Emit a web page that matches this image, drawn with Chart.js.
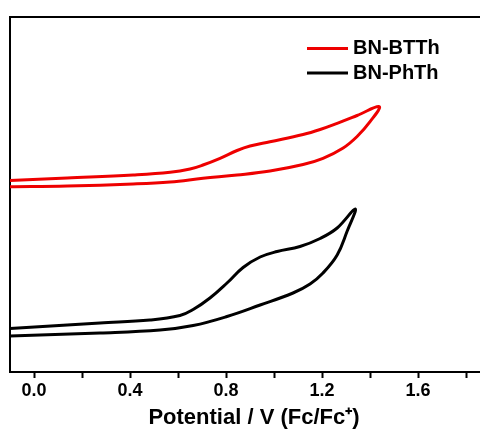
<!DOCTYPE html>
<html>
<head>
<meta charset="utf-8">
<script src="https://cdn.jsdelivr.net/npm/chart.js@4"></script>
<style>
  html, body { margin: 0; padding: 0; background: #fff; overflow: hidden; }
  #wrap { width: 500px; height: 431px; }
</style>
</head>
<body>
<div id="wrap"><canvas id="cv" width="500" height="431"></canvas></div>
<script>
'use strict';

// BN-BTTh loop: forward scan then reverse scan (potential in V vs Fc/Fc+, current in arb. units)
const btthV = [-0.100, 0.138, 0.413, 0.567, 0.650, 0.704, 0.775, 0.846, 0.900, 0.983, 1.121, 1.192, 1.263, 1.346, 1.438,
               1.400, 1.346, 1.288, 1.204, 1.121, 0.983, 0.846, 0.704, 0.567, 0.413, 0.138, -0.100];
const btthI = [191.5, 194, 197, 199.7, 203, 207, 213.7, 221.5, 226, 230.3, 237.5, 242.5, 248.7, 256.5, 265.3,
               250.3, 235.5, 224, 213.7, 207.5, 201, 197, 193.7, 190, 188, 186, 185.3];

// BN-PhTh loop
const phthV = [-0.100, 0.275, 0.483, 0.608, 0.663, 0.733, 0.804, 0.871, 0.942, 1.013, 1.108, 1.192, 1.263, 1.338,
               1.304, 1.263, 1.204, 1.150, 1.079, 0.942, 0.804, 0.663, 0.525, 0.275, -0.100];
const phthI = [43.5, 49, 52, 56.5, 62.5, 74, 89, 104.5, 115, 120.5, 125.5, 133.5, 144, 163,
               140.5, 117, 99, 88, 79, 67, 55.5, 46.5, 42, 39, 36];

const seriesNames = ['BN-BTTh', 'BN-PhTh'];
const seriesColors = ['#ee0000', '#000000'];

const FONT = '"Liberation Sans", Arial, Helvetica, sans-serif';

function toPoints(xs, ys) {
    let pts = [];
    for (let i = 0; i < xs.length; i++) {
        pts.push({x: xs[i], y: ys[i]});
    }
    return pts;
}

// legend drawn inside the plot, top right
const innerLegend = {
    id: 'innerLegend',
    afterDraw(chart) {
        const ctx = chart.ctx;
        const rows = [48.5, 73];
        ctx.save();
        ctx.font = 'bold 20px ' + FONT;
        ctx.textBaseline = 'middle';
        ctx.textAlign = 'left';
        chart.data.datasets.forEach(function(ds, i) {
            const y = rows[i];
            ctx.strokeStyle = ds.borderColor;
            ctx.lineWidth = 3;
            ctx.beginPath();
            ctx.moveTo(307, y);
            ctx.lineTo(348, y);
            ctx.stroke();
            ctx.fillStyle = '#000';
            ctx.fillText(ds.label, 353, y);
        });
        ctx.restore();
    }
};

const ctx = document.getElementById('cv').getContext('2d');
const chart = new Chart(ctx, {
    type: 'scatter',
    data: {
        datasets: [
            {
                label: seriesNames[0],
                data: toPoints(btthV, btthI),
                borderColor: seriesColors[0],
                backgroundColor: seriesColors[0]
            },
            {
                label: seriesNames[1],
                data: toPoints(phthV, phthI),
                borderColor: seriesColors[1],
                backgroundColor: seriesColors[1]
            }
        ]
    },
    options: {
        responsive: false,
        animation: false,
        showLine: true,
        layout: { padding: { left: 10, top: 17, right: 2, bottom: 0 } },
        elements: {
            point: { radius: 0, hoverRadius: 0 },
            line: { borderWidth: 3, tension: 0.4, fill: false, borderJoinStyle: 'round', borderCapStyle: 'round' }
        },
        plugins: {
            legend: { display: false },
            tooltip: { enabled: false }
        },
        scales: {
            x: {
                type: 'linear',
                position: 'bottom',
                min: -0.1,
                max: 1.933,
                afterFit: function(scale) { scale.height = 59; },
                border: { display: true, color: '#000', width: 2 },
                grid: {
                    display: true,
                    drawOnChartArea: false,
                    drawTicks: true,
                    tickLength: 6,
                    tickColor: '#000',
                    tickWidth: 2
                },
                ticks: {
                    stepSize: 0.2,
                    includeBounds: false,
                    autoSkip: false,
                    maxRotation: 0,
                    padding: 2,
                    color: '#000',
                    font: { family: FONT, size: 18, weight: 'bold' },
                    callback: function(v) {
                        const k = Math.round(v * 10);
                        return (k % 4 === 0) ? (k / 10).toFixed(1) : '';
                    }
                },
                title: {
                    display: true,
                    text: 'Potential / V (Fc/Fc\u207A)',
                    color: '#000',
                    padding: { top: 4, bottom: 0 },
                    font: { family: FONT, size: 22, weight: 'bold' }
                }
            },
            x2: {
                type: 'linear',
                axis: 'x',
                position: 'top',
                afterFit: function(scale) { scale.height = 0; },
                border: { display: true, color: '#000', width: 2 },
                grid: { display: false },
                ticks: { display: false }
            },
            y: {
                type: 'linear',
                position: 'left',
                min: 0,
                max: 355,
                afterFit: function(scale) { scale.width = 0; },
                border: { display: true, color: '#000', width: 2 },
                grid: { display: false },
                ticks: { display: false }
            }
        }
    },
    plugins: [innerLegend]
});
</script>
</body>
</html>
